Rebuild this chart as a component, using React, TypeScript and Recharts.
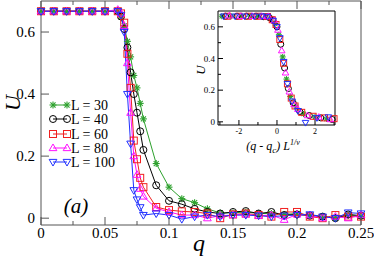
import React from 'react';
import { LineChart, Line, ScatterChart, Scatter, XAxis, YAxis } from 'recharts';

// main panel: U vs q for each system size
const qValues = [0, 0.01, 0.02, 0.03, 0.04, 0.05, 0.06, 0.0625, 0.065, 0.0675, 0.07, 0.0725, 0.075, 0.0775, 0.08, 0.09, 0.1, 0.11, 0.12, 0.13, 0.14, 0.15, 0.16, 0.17, 0.18, 0.19, 0.2, 0.21, 0.22, 0.23, 0.24, 0.25];
const u30 = [0.667, 0.667, 0.667, 0.667, 0.667, 0.667, 0.667, 0.65, 0.62, 0.57, 0.52, 0.46, 0.42, 0.37, 0.32, 0.176, 0.1, 0.063, 0.05, 0.03, 0.017, 0.017, 0.02, 0.015, 0.015, 0.012, 0.015, 0.01, 0.005, 0.0, 0.01, 0.005];
const u40 = [0.667, 0.667, 0.667, 0.667, 0.667, 0.667, 0.667, 0.65, 0.61, 0.55, 0.47, 0.4, 0.34, 0.28, 0.22, 0.106, 0.056, 0.045, 0.03, 0.02, 0.015, 0.02, 0.023, 0.015, 0.02, 0.01, 0.012, 0.008, 0.005, 0.0, 0.012, 0.008];
const u60 = [0.667, 0.667, 0.667, 0.667, 0.667, 0.667, 0.667, 0.66, 0.63, 0.53, 0.42, 0.25, 0.19, 0.13, 0.1, 0.036, 0.026, 0.022, 0.02, 0.015, 0.0, 0.012, 0.015, 0.01, 0.005, 0.02, 0.02, 0.005, 0.0, 0.01, 0.005, 0.005];
const u80 = [0.667, 0.667, 0.667, 0.667, 0.667, 0.667, 0.672, 0.66, 0.62, 0.5, 0.34, 0.2, 0.14, 0.095, 0.07, 0.032, 0.02, 0.01, 0.01, 0.0, 0.008, 0.01, 0.012, 0.008, 0.01, -0.005, 0.012, 0.01, 0.0, 0.005, 0.0, 0.01];
const u100 = [0.667, 0.667, 0.667, 0.667, 0.667, 0.667, 0.667, 0.655, 0.6, 0.4, 0.24, 0.09, 0.06, 0.035, 0.01, 0.015, 0.01, -0.003, 0.005, 0.01, 0.005, 0.01, 0.01, 0.008, 0.005, 0.008, 0.01, 0.012, 0.005, 0.0, 0.018, 0.015];

const xTicks = [0, 0.025, 0.05, 0.075, 0.1, 0.125, 0.15, 0.175, 0.2, 0.225, 0.25];
const xMajor = [0, 0.05, 0.1, 0.15, 0.2, 0.25];
const yTicks = [0, 0.2, 0.4, 0.6];

// inset: scaling collapse (q - qc) L^(1/nu)
const ix30 = [-2.9, -2.4, -1.9, -1.4, -1.0, -0.6, -0.3, -0.1, 0.1, 0.3, 0.5, 0.7, 1.0, 1.4, 2.0, 2.6];
const iu30 = [0.667, 0.667, 0.667, 0.667, 0.666, 0.662, 0.65, 0.62, 0.55, 0.41, 0.27, 0.16, 0.095, 0.05, 0.03, 0.018];
const ix40 = [-2.7, -2.1, -1.6, -1.1, -0.7, -0.4, -0.2, 0.0, 0.2, 0.4, 0.6, 0.85, 1.2, 1.7, 2.3, 2.9];
const iu40 = [0.667, 0.667, 0.667, 0.667, 0.664, 0.658, 0.64, 0.6, 0.49, 0.34, 0.21, 0.12, 0.065, 0.04, 0.025, 0.015];
const ix60 = [-2.6, -2.0, -1.5, -1.0, -0.5, -0.25, -0.05, 0.15, 0.35, 0.55, 0.75, 0.95, 1.3, 1.9, 2.5, 3.0];
const iu60 = [0.667, 0.667, 0.667, 0.667, 0.665, 0.645, 0.615, 0.52, 0.37, 0.24, 0.15, 0.1, 0.06, 0.035, 0.025, 0.02];
const ix80 = [-2.5, -1.9, -1.3, -0.8, -0.45, -0.15, 0.05, 0.25, 0.45, 0.65, 0.9, 1.1, 1.6, 2.2, 2.8];
const iu80 = [0.67, 0.667, 0.667, 0.667, 0.666, 0.64, 0.58, 0.45, 0.31, 0.19, 0.11, 0.08, 0.04, 0.03, 0.015];
const ix100 = [-2.8, -2.2, -1.7, -1.2, -0.8, -0.5, -0.2, 0.0, 0.15, 0.35, 0.55, 0.8, 1.1, 1.5, 2.1, 2.7];
const iu100 = [0.667, 0.667, 0.667, 0.667, 0.667, 0.665, 0.64, 0.6, 0.53, 0.38, 0.24, 0.13, 0.07, -0.005, 0.025, 0.03];

const insetXTicks = [-3, -2, -1, 0, 1, 2, 3];
const insetXMajor = [-2, 0, 2];
const insetYTicks = [0, 0.1, 0.2, 0.3, 0.4, 0.5, 0.6];
const insetYMajor = [0, 0.2, 0.4, 0.6];

const series = [
  { key: 'u30', label: 'L = 30', color: '#2ca02c', shape: 'star', ix: ix30, iu: iu30 },
  { key: 'u40', label: 'L = 40', color: '#000000', shape: 'circle', ix: ix40, iu: iu40 },
  { key: 'u60', label: 'L = 60', color: '#f02020', shape: 'square', ix: ix60, iu: iu60 },
  { key: 'u80', label: 'L = 80', color: '#ff10ff', shape: 'up', ix: ix80, iu: iu80 },
  { key: 'u100', label: 'L = 100', color: '#2030ff', shape: 'down', ix: ix100, iu: iu100 },
];

const rows = qValues.map((q, i) => ({ q, u30: u30[i], u40: u40[i], u60: u60[i], u80: u80[i], u100: u100[i] }));

const SERIF = 'Liberation Serif, Times New Roman, DejaVu Serif, serif';
const FRAME = '#555';

const serifStyle = (size: number, italic = false): React.CSSProperties => ({
  fontFamily: SERIF,
  fontSize: size,
  fontStyle: italic ? 'italic' : 'normal',
});

function Marker({ shape, cx, cy, color, r }: any) {
  if (cx == null || cy == null) return null;
  const common = { fill: 'none', stroke: color, strokeWidth: 1 };
  if (shape === 'circle') return <circle cx={cx} cy={cy} r={r} {...common} />;
  if (shape === 'square') return <rect x={cx - r} y={cy - r} width={2 * r} height={2 * r} {...common} />;
  if (shape === 'up') return <polygon points={`${cx},${cy - r * 1.15} ${cx - r * 1.1},${cy + r * 0.75} ${cx + r * 1.1},${cy + r * 0.75}`} {...common} />;
  if (shape === 'down') return <polygon points={`${cx},${cy + r * 1.15} ${cx - r * 1.1},${cy - r * 0.75} ${cx + r * 1.1},${cy - r * 0.75}`} {...common} />;
  const d = r * 0.72;
  return (
    <g stroke={color} strokeWidth={1.1}>
      <line x1={cx - r} y1={cy} x2={cx + r} y2={cy} />
      <line x1={cx} y1={cy - r} x2={cx} y2={cy + r} />
      <line x1={cx - d} y1={cy - d} x2={cx + d} y2={cy + d} />
      <line x1={cx - d} y1={cy + d} x2={cx + d} y2={cy - d} />
    </g>
  );
}

const isMajor = (v: number, majors: number[]) => majors.some((m) => Math.abs(m - v) < 1e-9);

function makeTick(side: string, majors: number[], opts: any) {
  const { len, minorLen, fontSize, color, labels, gap } = opts;
  return (props: any) => {
    const { x, y, payload } = props;
    const v = payload.value;
    const major = isMajor(v, majors);
    const L = major ? len : minorLen;
    let line;
    let text = null;
    if (side === 'bottom') {
      line = <line x1={x} y1={y} x2={x} y2={y - L} stroke={color} />;
      if (labels && major)
        text = <text x={x} y={y + gap} dy="0.71em" textAnchor="middle" style={serifStyle(fontSize)} fill="#000">{String(v)}</text>;
    } else if (side === 'top') {
      line = <line x1={x} y1={y} x2={x} y2={y + L} stroke={color} />;
    } else if (side === 'left') {
      line = <line x1={x} y1={y} x2={x + L} y2={y} stroke={color} />;
      if (labels && major)
        text = <text x={x - gap} y={y} dy="0.35em" textAnchor="end" style={serifStyle(fontSize)} fill="#000">{String(v)}</text>;
    } else {
      line = <line x1={x} y1={y} x2={x - L} y2={y} stroke={color} />;
    }
    return <g>{line}{text}</g>;
  };
}

const mainTickOpts = { len: 8, minorLen: 4, fontSize: 15, color: FRAME, labels: true, gap: 2 };
const insetTickOpts = { len: 5, minorLen: 3, fontSize: 9, color: '#000', labels: true, gap: 3 };

function MainChart() {
  return (
    <LineChart width={374} height={257} data={rows} margin={{ top: 0, right: 12, bottom: 0, left: 0 }}>
      <XAxis xAxisId="b" type="number" dataKey="q" domain={[0, 0.25]} ticks={xTicks} interval={0} height={32}
        tickSize={0} tickMargin={0} tickLine={false} axisLine={{ stroke: FRAME }} tick={makeTick('bottom', xMajor, mainTickOpts)} />
      <XAxis xAxisId="t" orientation="top" type="number" dataKey="q" domain={[0, 0.25]} ticks={xTicks} interval={0} height={1}
        tickSize={0} tickMargin={0} tickLine={false} axisLine={{ stroke: FRAME }} tick={makeTick('top', xMajor, mainTickOpts)} />
      <YAxis yAxisId="l" type="number" domain={[-0.022, 0.7]} ticks={yTicks} interval={0} width={41}
        tickSize={0} tickMargin={0} tickLine={false} axisLine={{ stroke: FRAME }} tick={makeTick('left', yTicks, { ...mainTickOpts, gap: 6 })} />
      <YAxis yAxisId="r" orientation="right" type="number" domain={[-0.022, 0.7]} ticks={yTicks} interval={0} width={1}
        tickSize={0} tickMargin={0} tickLine={false} axisLine={{ stroke: FRAME }} tick={makeTick('right', yTicks, mainTickOpts)} />
      {series.map((s) => (
        <Line key={s.key} xAxisId="b" yAxisId="l" type="linear" dataKey={s.key} stroke={s.color} strokeWidth={1}
          isAnimationActive={false}
          dot={(p: any) => <Marker key={`${s.key}-${p.index}`} shape={s.shape} cx={p.cx} cy={p.cy} color={s.color} r={3.5} />}
          activeDot={false} />
      ))}
    </LineChart>
  );
}

function InsetChart() {
  return (
    <ScatterChart width={180} height={160} margin={{ top: 10, right: 34, bottom: 0, left: 0 }}>
      <XAxis xAxisId="b" type="number" dataKey="x" domain={[-3.1, 3.05]} ticks={insetXTicks} interval={0} height={35}
        tickSize={0} tickMargin={0} tickLine={false} axisLine={{ stroke: '#000' }} tick={makeTick('bottom', insetXMajor, { ...insetTickOpts, fontSize: 8, gap: 3 })} />
      <XAxis xAxisId="t" orientation="top" type="number" dataKey="x" domain={[-3.1, 3.05]} ticks={insetXTicks} interval={0} height={1}
        tickSize={0} tickMargin={0} tickLine={false} axisLine={{ stroke: '#000' }} tick={makeTick('top', insetXMajor, insetTickOpts)} />
      <YAxis yAxisId="l" type="number" dataKey="u" domain={[-0.02, 0.7]} ticks={insetYTicks} interval={0} width={28}
        tickSize={0} tickMargin={0} tickLine={false} axisLine={{ stroke: '#000' }} tick={makeTick('left', insetYMajor, insetTickOpts)} />
      <YAxis yAxisId="r" orientation="right" type="number" dataKey="u" domain={[-0.02, 0.7]} ticks={insetYTicks} interval={0} width={1}
        tickSize={0} tickMargin={0} tickLine={false} axisLine={{ stroke: '#000' }} tick={makeTick('right', insetYMajor, insetTickOpts)} />
      {series.map((s) => (
        <Scatter key={s.key} xAxisId="b" yAxisId="l" data={s.ix.map((x, i) => ({ x, u: s.iu[i] }))}
          isAnimationActive={false}
          shape={(p: any) => <Marker shape={s.shape} cx={p.cx} cy={p.cy} color={s.color} r={3} />} />
      ))}
    </ScatterChart>
  );
}

function Annotations() {
  const legendY = [105, 119, 134, 148, 162];
  return (
    <svg width={374} height={257} style={{ position: 'absolute', left: 0, top: 0, pointerEvents: 'none' }}>
      <text x={12} y={103} transform="rotate(-90 12 103)" dy="0.35em" textAnchor="middle" style={serifStyle(22, true)}>U</text>
      <text x={199} y={243} dy="0.35em" textAnchor="middle" style={serifStyle(24, true)}>q</text>
      <text x={76} y={206} dy="0.35em" textAnchor="middle" style={serifStyle(21, true)}>(a)</text>
      <text x={200} y={70} transform="rotate(-90 200 70)" dy="0.35em" textAnchor="middle" style={serifStyle(13, true)}>U</text>
      <text x={273} y={146} dy="0.35em" textAnchor="middle" style={serifStyle(12, true)}>
        (q - q<tspan dy="3" style={{ fontSize: 9 }}>c</tspan><tspan dy="-3">) L</tspan><tspan dy="-5" style={{ fontSize: 8 }}>1/ν</tspan>
      </text>
      {series.map((s, i) => (
        <g key={s.key}>
          <line x1={53} y1={legendY[i]} x2={67} y2={legendY[i]} stroke={s.color} strokeWidth={1} />
          <Marker shape={s.shape} cx={53} cy={legendY[i]} color={s.color} r={3.5} />
          <Marker shape={s.shape} cx={67} cy={legendY[i]} color={s.color} r={3.5} />
          <text x={71} y={legendY[i]} dy="0.35em" style={serifStyle(14)}>{s.label}</text>
        </g>
      ))}
    </svg>
  );
}

export default function App() {
  return (
    <div style={{ position: 'absolute', left: 0, top: 0, width: 374, height: 257, background: '#fff' }}>
      <MainChart />
      <div style={{ position: 'absolute', left: 190, top: 0 }}>
        <InsetChart />
      </div>
      <Annotations />
    </div>
  );
}
